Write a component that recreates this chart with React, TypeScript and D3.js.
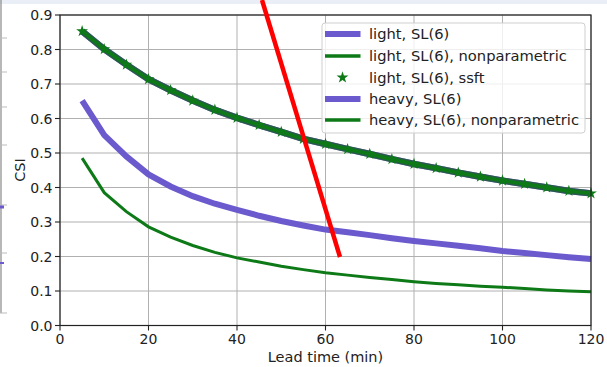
import React from "react";
import * as d3 from "d3";

const leadTimes = [5, 10, 15, 20, 25, 30, 35, 40, 45, 50, 55, 60, 65, 70, 75, 80, 85, 90, 95, 100, 105, 110, 115, 120];
const lightSL = [0.853, 0.801, 0.756, 0.714, 0.682, 0.652, 0.625, 0.602, 0.581, 0.561, 0.541, 0.526, 0.511, 0.497, 0.482, 0.468, 0.456, 0.443, 0.431, 0.42, 0.41, 0.4, 0.39, 0.383];
const lightNonparam = [0.853, 0.801, 0.756, 0.714, 0.682, 0.652, 0.625, 0.602, 0.581, 0.561, 0.541, 0.526, 0.511, 0.497, 0.482, 0.468, 0.456, 0.443, 0.431, 0.42, 0.41, 0.4, 0.39, 0.383];
const lightSsft = [0.853, 0.801, 0.756, 0.714, 0.682, 0.652, 0.625, 0.602, 0.581, 0.561, 0.541, 0.526, 0.511, 0.497, 0.482, 0.468, 0.456, 0.443, 0.431, 0.42, 0.41, 0.4, 0.39, 0.383];
const heavySL = [0.652, 0.552, 0.49, 0.438, 0.403, 0.375, 0.353, 0.335, 0.318, 0.303, 0.29, 0.278, 0.27, 0.262, 0.253, 0.245, 0.238, 0.231, 0.224, 0.216, 0.21, 0.204, 0.198, 0.193];
const heavyNonparam = [0.485, 0.385, 0.33, 0.286, 0.256, 0.232, 0.212, 0.196, 0.184, 0.172, 0.162, 0.153, 0.146, 0.139, 0.133, 0.127, 0.122, 0.118, 0.114, 0.111, 0.107, 0.103, 0.1, 0.098];
const xTicks = [0, 20, 40, 60, 80, 100, 120];
const yTicks = [0, 0.1, 0.2, 0.3, 0.4, 0.5, 0.6, 0.7, 0.8, 0.9];
const legendLabels = ["light, SL(6)", "light, SL(6), nonparametric", "light, SL(6), ssft", "heavy, SL(6)", "heavy, SL(6), nonparametric"];

const PURPLE = "#6a5acd";
const GREEN = "#0d7a17";
const FONT = "DejaVu Sans, sans-serif";

export default function App() {
  const x = d3.scaleLinear().domain([0, 120]).range([60, 591]);
  const y = d3.scaleLinear().domain([0, 0.9]).range([325.5, 15]);
  const line = (vals: number[]) =>
    d3.line<number>().x((_, i) => x(leadTimes[i])).y((v) => y(v))(vals) || "";
  const star = d3.symbol().type(d3.symbolStar).size(44)() || "";

  const legendRows = [34, 56, 77.5, 99, 120];

  return (
    <svg width={607} height={367} style={{ position: "absolute", left: 0, top: 0, background: "#fff" }} fontFamily={FONT}>
      <rect x={0} y={0} width={607} height={367} fill="#fff" />
      {/* screenshot artifacts */}
      <rect x={0} y={0} width={607} height={4} fill="#eaeef6" />
      <line x1={1} y1={0} x2={1} y2={313} stroke="#888" strokeWidth={1.2} />
      {[38, 72, 107, 145, 205, 253, 313].map((t) => (
        <line key={t} x1={0} x2={7} y1={t} y2={t} stroke="#bbb" strokeWidth={1} />
      ))}
      <line x1={0} x2={4} y1={207} y2={207} stroke={PURPLE} strokeWidth={3} />
      <line x1={0} x2={4} y1={263} y2={263} stroke={PURPLE} strokeWidth={2} />

      {/* grid */}
      {xTicks.map((t) => (
        <line key={"gx" + t} x1={x(t)} x2={x(t)} y1={15} y2={325.5} stroke="#b0b0b0" strokeWidth={1} />
      ))}
      {yTicks.map((t) => (
        <line key={"gy" + t} x1={60} x2={591} y1={y(t)} y2={y(t)} stroke="#b0b0b0" strokeWidth={1} />
      ))}

      {/* series */}
      <path d={line(lightSL)} fill="none" stroke={PURPLE} strokeWidth={6.5} />
      <path d={line(lightNonparam)} fill="none" stroke="#1f5a35" strokeWidth={6.5} strokeOpacity={0.85} />
      <path d={line(lightNonparam)} fill="none" stroke={GREEN} strokeWidth={3.5} />
      <path d={line(heavySL)} fill="none" stroke={PURPLE} strokeWidth={6} />
      <path d={line(heavyNonparam)} fill="none" stroke={GREEN} strokeWidth={3} />
      {lightSsft.map((v, i) => (
        <path key={"s" + i} d={star} transform={`translate(${x(leadTimes[i])},${y(v)})`} fill={GREEN} />
      ))}

      {/* spines */}
      <rect x={60} y={15} width={531} height={310.5} fill="none" stroke="#222" strokeWidth={1.2} />

      {/* ticks */}
      {xTicks.map((t) => (
        <g key={"tx" + t}>
          <line x1={x(t)} x2={x(t)} y1={325.5} y2={330.5} stroke="#222" strokeWidth={1.1} />
          <text x={x(t)} y={343.5} textAnchor="middle" fontSize={14} fill="#222">{t}</text>
        </g>
      ))}
      {yTicks.map((t) => (
        <g key={"ty" + t}>
          <line x1={55} x2={60} y1={y(t)} y2={y(t)} stroke="#222" strokeWidth={1.1} />
          <text x={52.5} y={y(t) + 5} textAnchor="end" fontSize={14} fill="#222">{t.toFixed(1)}</text>
        </g>
      ))}
      <text x={325.5} y={362} textAnchor="middle" fontSize={14.5} fill="#222">Lead time (min)</text>
      <text transform={`translate(24.5,170) rotate(-90)`} textAnchor="middle" fontSize={14.5} fill="#222">CSI</text>

      {/* legend */}
      <rect x={322} y={23} width={263} height={110} rx={3} fill="#fff" fillOpacity={0.8} stroke="#cfcfcf" strokeWidth={1} />
      {legendLabels.map((lab, i) => {
        const cy = legendRows[i];
        const isPurple = i === 0 || i === 3;
        return (
          <g key={lab}>
            {i === 2 ? (
              <path d={star} transform={`translate(342.5,${cy})`} fill={GREEN} />
            ) : (
              <line x1={325} x2={360.5} y1={cy} y2={cy} stroke={isPurple ? PURPLE : GREEN} strokeWidth={isPurple ? 6 : 3.5} />
            )}
            <text x={369} y={cy + 5} fontSize={14.7} fill="#222">{lab}</text>
          </g>
        );
      })}

      {/* red annotation stroke */}
      <line x1={262} y1={0} x2={340} y2={257} stroke="#ff0000" strokeWidth={4.5} />
    </svg>
  );
}
